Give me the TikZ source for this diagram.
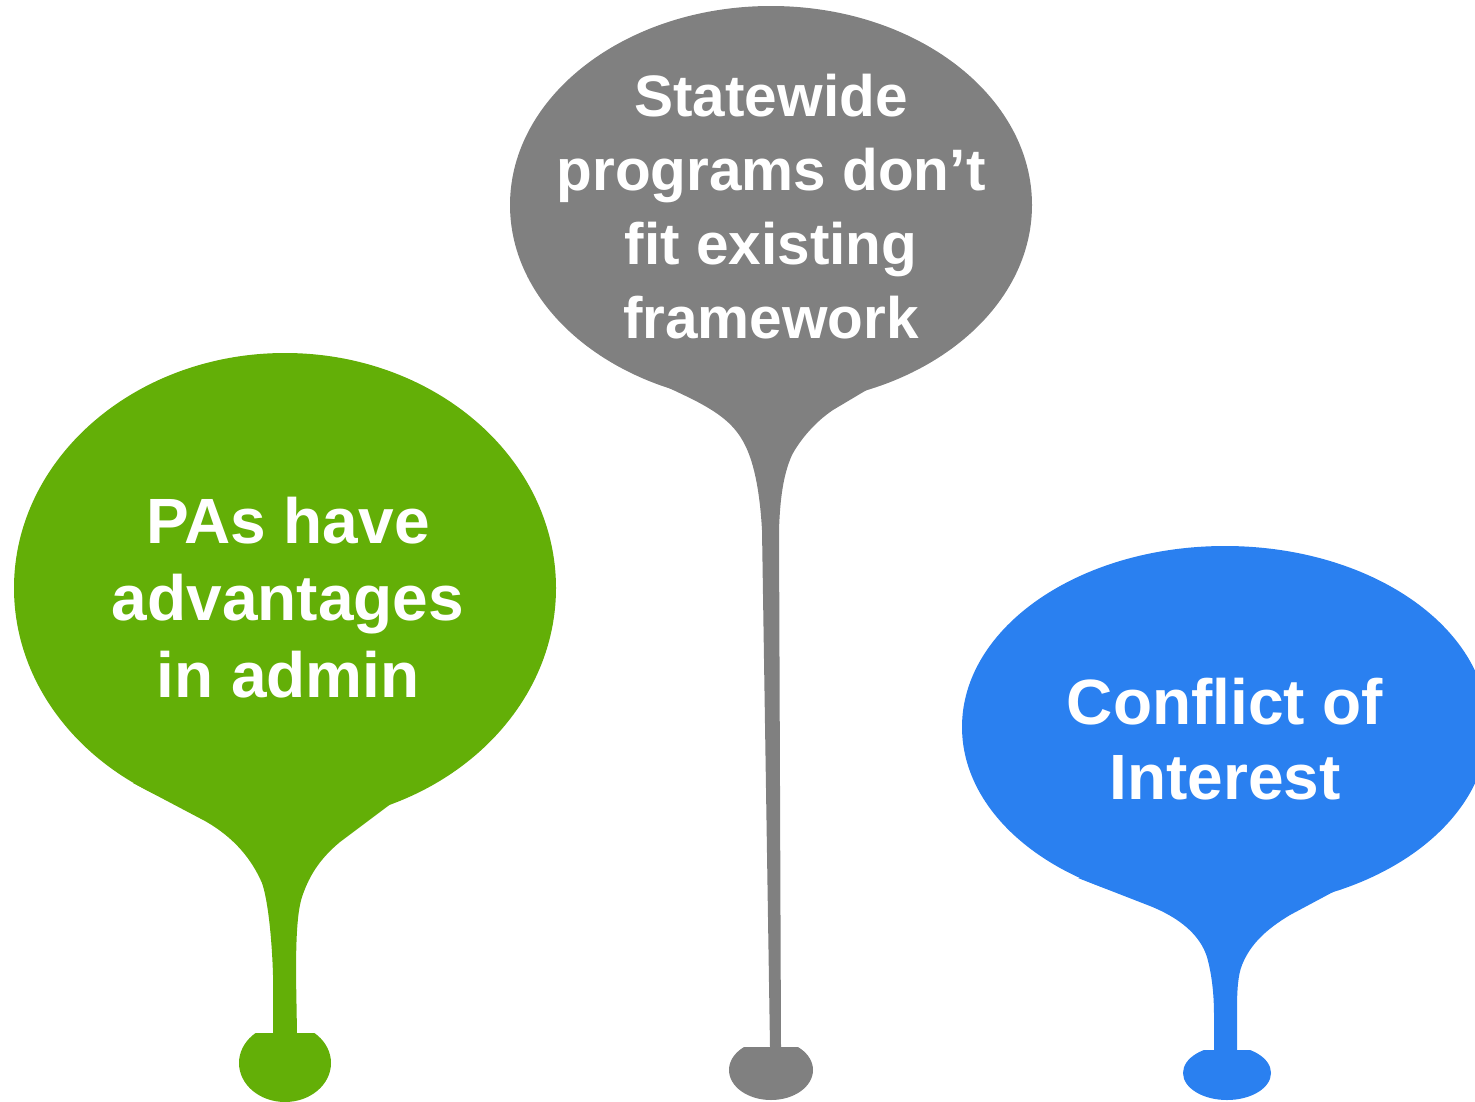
\documentclass[tikz,border=0pt]{standalone}
\usepackage{fontspec}
\setmainfont{Liberation Sans}
\definecolor{pagreen}{HTML}{63AF07}
\definecolor{pagrey}{HTML}{808080}
\definecolor{pablue}{HTML}{2A80F0}

\begin{document}
\begin{tikzpicture}[x=1pt,y=-1pt,
    bubble/.style={text=white,align=center,inner sep=0pt,anchor=north}]
  \useasboundingbox (0,0) rectangle (1475,1101);

  % green balloon
  \fill[pagreen] (285,588) ellipse [x radius=271,y radius=235];
  \fill[pagreen] (133,783) -- (205,821) .. controls (235,838) and (252,860) .. (262,883)
    .. controls (268,900) and (272,940) .. (273,975) -- (273,1033) -- (297,1033)
    -- (296,975) .. controls (296,930) and (298,910) .. (302,897)
    .. controls (310,873) and (322,857) .. (340,842) -- (392,803) -- cycle;
  \begin{scope}
    \clip (0,1033) rectangle (1475,1101);
    \fill[pagreen] (285,1063) ellipse [x radius=46,y radius=39];
  \end{scope}

  % grey balloon
  \fill[pagrey] (771,205) ellipse [x radius=261,y radius=199];
  \fill[pagrey] (627,368) -- (690,398) .. controls (720,413) and (735,425) .. (745,445)
    .. controls (755,465) and (760,495) .. (762,530) -- (770,1047) -- (781,1047)
    -- (779,530) .. controls (780,500) and (783,475) .. (792,455)
    .. controls (800,440) and (815,422) .. (833,410) -- (875,385) -- cycle;
  \begin{scope}
    \clip (0,1047) rectangle (1475,1101);
    \fill[pagrey] (771,1070) ellipse [x radius=42,y radius=30];
  \end{scope}

  % blue balloon
  \fill[pablue] (1225,727) ellipse [x radius=263,y radius=181];
  \fill[pablue] (1078,878) -- (1150,906) .. controls (1180,918) and (1200,935) .. (1207,957)
    .. controls (1212,975) and (1214,995) .. (1214,1015) -- (1214,1050) -- (1237,1050)
    -- (1237,1010) .. controls (1237,990) and (1238,975) .. (1242,965)
    .. controls (1250,945) and (1265,930) .. (1290,915) -- (1333,892) -- cycle;
  \begin{scope}
    \clip (0,1050) rectangle (1475,1101);
    \fill[pablue] (1227,1073) ellipse [x radius=44,y radius=27];
  \end{scope}

  \node[bubble,font=\bfseries\fontsize{64}{77}\selectfont] (pas) at (288,497)
    {PAs have\\advantages\\in admin};
  \node[bubble,font=\bfseries\fontsize{58.5}{74}\selectfont] (statewide) at (771,74)
    {Statewide\\programs don’t\\fit existing\\framework};
  \node[bubble,font=\bfseries\fontsize{64}{75}\selectfont] (conflict) at (1225,678)
    {Conflict of\\Interest};
\end{tikzpicture}
\end{document}
